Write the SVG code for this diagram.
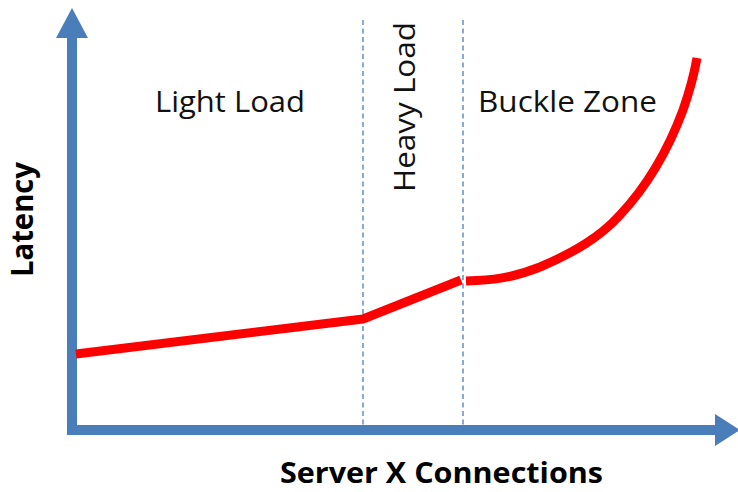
<svg xmlns="http://www.w3.org/2000/svg" width="738" height="492" viewBox="0 0 738 492">
  <style>
    .axis { fill: none; stroke: #4a7ebb; stroke-width: 10; }
    .head { fill: #4a7ebb; }
    .divider { fill: none; stroke: #4a7ebb; stroke-width: 1.3; stroke-dasharray: 5 3.5; }
    .curve { fill: none; stroke: #ff0000; stroke-width: 9; stroke-linejoin: round; }
    .label { font-family: "Open Sans", "Liberation Sans", sans-serif; font-size: 30px; fill: #111; }
    .title { font-family: "Open Sans", "Liberation Sans", sans-serif; font-size: 30px; font-weight: bold; fill: #000; }
  </style>
  <rect width="738" height="492" fill="#ffffff"/>

  <!-- axes -->
  <g id="axes">
    <path class="axis" d="M72 36 V430 H716"/>
    <polygon class="head" points="72,8 88,38 56,38"/>
    <polygon class="head" points="740,430 715,414 715,446"/>
  </g>

  <!-- zone dividers -->
  <g id="dividers">
    <line class="divider" x1="363" y1="20" x2="363" y2="430"/>
    <line class="divider" x1="463" y1="20" x2="463" y2="430"/>
  </g>

  <!-- latency curve -->
  <g id="latency-curve">
    <path class="curve" d="M76 354 L363 319 L461 280"/>
    <path class="curve" d="M466 281 C490 280 510 279 540 267 C575 252 600 237 620 215 C650 183 670 145 683 110 C690 90 694 75 697 58"/>
  </g>

  <!-- zone labels -->
  <g id="zone-labels">
    <text class="label" x="155" y="112" textLength="150" lengthAdjust="spacingAndGlyphs">Light Load</text>
    <text class="label" transform="translate(415,192) rotate(-90)" x="0" y="0" textLength="170" lengthAdjust="spacingAndGlyphs">Heavy Load</text>
    <text class="label" x="478" y="112" textLength="179" lengthAdjust="spacingAndGlyphs">Buckle Zone</text>
  </g>

  <!-- axis titles -->
  <g id="axis-titles">
    <text class="title" transform="translate(33,277) rotate(-90)" x="0" y="0" textLength="115" lengthAdjust="spacingAndGlyphs">Latency</text>
    <text class="title" x="280" y="483" style="font-size:29px" textLength="323" lengthAdjust="spacingAndGlyphs">Server X Connections</text>
  </g>
</svg>
